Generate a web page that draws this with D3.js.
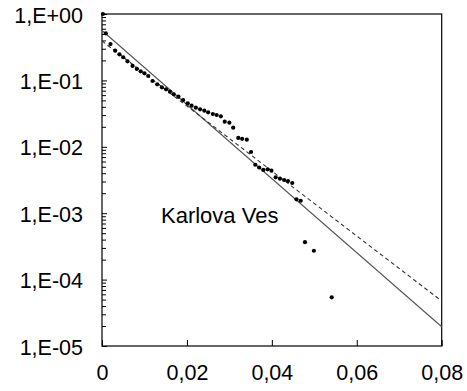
<!DOCTYPE html>
<html>
<head>
<meta charset="utf-8">
<script src="https://cdnjs.cloudflare.com/ajax/libs/d3/7.8.5/d3.min.js"></script>
<style>
  html, body { margin: 0; padding: 0; background: #fff; }
  svg { display: block; }
  text { font-family: "Liberation Sans", Arial, sans-serif; fill: #000; }
</style>
</head>
<body>
<svg id="chart" width="467" height="391"></svg>
<script>
// Observed exceedance probabilities (Karlova Ves)
const obsX = [0.0002, 0.0009, 0.0020, 0.0031, 0.0041, 0.0050, 0.0060, 0.0072, 0.0082, 0.0091,
  0.0100, 0.0109, 0.0119, 0.0130, 0.0141, 0.0151, 0.0160, 0.0169, 0.0180, 0.0191,
  0.0202, 0.0211, 0.0221, 0.0231, 0.0241, 0.0250, 0.0261, 0.0270, 0.0280, 0.0289,
  0.0300, 0.0309, 0.0321, 0.0330, 0.0341, 0.0351, 0.0361, 0.0370, 0.0380, 0.0390,
  0.0399, 0.0409, 0.0419, 0.0429, 0.0438, 0.0448, 0.0458, 0.0468, 0.0478, 0.0499,
  0.0541];
const obsP = [1.0, 0.51, 0.353, 0.280, 0.247, 0.223, 0.194, 0.165, 0.149, 0.137,
  0.128, 0.1165, 0.098, 0.0873, 0.0787, 0.0734, 0.0676, 0.0618, 0.0569, 0.0507,
  0.0452, 0.0416, 0.0388, 0.0367, 0.0350, 0.0331, 0.0312, 0.0301, 0.0288, 0.0239,
  0.0231, 0.0194, 0.0136, 0.0132, 0.0128, 0.00835, 0.00537, 0.00488, 0.00448, 0.00458,
  0.00437, 0.00347, 0.00331, 0.00316, 0.00305, 0.00285, 0.00162, 0.00154, 0.000366, 0.000272,
  0.0000541];

// Fitted distributions
const fitX = [0, 0.08];
const fitSolid = [0.564, 0.0000195];
const fitDashed = [0.392, 0.0000476];

// Axis ticks
const xTickValues = [0, 0.02, 0.04, 0.06, 0.08];
const xTickLabels = ["0", "0,02", "0,04", "0,06", "0,08"];
const yTickValues = [1, 1e-1, 1e-2, 1e-3, 1e-4, 1e-5];
const yTickLabels = ["1,E+00", "1,E-01", "1,E-02", "1,E-03", "1,E-04", "1,E-05"];

const svg = d3.select("#chart");
const plotLeft = 102, plotRight = 441.7, plotTop = 14, plotBottom = 346;

const x = d3.scaleLinear().domain([0, 0.08]).range([plotLeft, plotRight]);
const y = d3.scaleLog().domain([1e-5, 1]).range([plotBottom, plotTop]);

// Minor log ticks 2..9 within each decade
const yMinor = [];
for (let e = -5; e < 0; e++) {
  for (let m = 2; m <= 9; m++) yMinor.push(m * Math.pow(10, e));
}

const fontSize = 21.5;

// Minor ticks on the left axis
svg.append("g")
  .attr("transform", `translate(${plotLeft},0)`)
  .call(d3.axisLeft(y).tickValues(yMinor).tickSize(-4).tickFormat(""))
  .call(g => g.select(".domain").remove())
  .call(g => g.selectAll("line").attr("stroke", "#000").attr("stroke-width", 1));

// Major ticks and labels on the left axis
svg.append("g")
  .attr("transform", `translate(${plotLeft},0)`)
  .call(d3.axisLeft(y).tickValues(yTickValues).tickSize(-5).tickPadding(19)
    .tickFormat((d, i) => yTickLabels[i]))
  .call(g => g.select(".domain").remove())
  .call(g => g.selectAll("line").attr("stroke", "#000"))
  .call(g => g.selectAll("text")
    .attr("font-size", fontSize)
    .attr("font-family", "Liberation Sans, Arial, sans-serif")
    .attr("fill", "#000")
    .attr("dy", "0.38em"));

// Bottom axis
svg.append("g")
  .attr("transform", `translate(0,${plotBottom})`)
  .call(d3.axisBottom(x).tickValues(xTickValues).tickSizeInner(-6).tickSizeOuter(0)
    .tickPadding(19).tickFormat((d, i) => xTickLabels[i]))
  .call(g => g.select(".domain").remove())
  .call(g => g.selectAll("line").attr("stroke", "#000"))
  .call(g => g.selectAll("text")
    .attr("font-size", fontSize)
    .attr("font-family", "Liberation Sans, Arial, sans-serif")
    .attr("fill", "#000"));

// Plot frame
svg.append("rect")
  .attr("x", plotLeft).attr("y", plotTop)
  .attr("width", plotRight - plotLeft).attr("height", plotBottom - plotTop)
  .attr("fill", "none").attr("stroke", "#000").attr("stroke-width", 1.2);

const line = d3.line().x(d => x(d[0])).y(d => y(d[1]));

// Exponential fit (solid)
svg.append("path")
  .datum(fitX.map((v, i) => [v, fitSolid[i]]))
  .attr("d", line)
  .attr("fill", "none").attr("stroke", "#555").attr("stroke-width", 1.1);

// Alternative fit (dashed)
svg.append("path")
  .datum(fitX.map((v, i) => [v, fitDashed[i]]))
  .attr("d", line)
  .attr("fill", "none").attr("stroke", "#333").attr("stroke-width", 1.1)
  .attr("stroke-dasharray", "4,3");

// Observations
svg.append("g")
  .selectAll("circle")
  .data(obsX.map((v, i) => [v, obsP[i]]))
  .join("circle")
  .attr("cx", d => x(d[0]))
  .attr("cy", d => y(d[1]))
  .attr("r", 2.1)
  .attr("fill", "#000");

// Station name
svg.append("text")
  .attr("x", 161)
  .attr("y", 223)
  .attr("font-size", 22)
  .text("Karlova Ves");
</script>
</body>
</html>
